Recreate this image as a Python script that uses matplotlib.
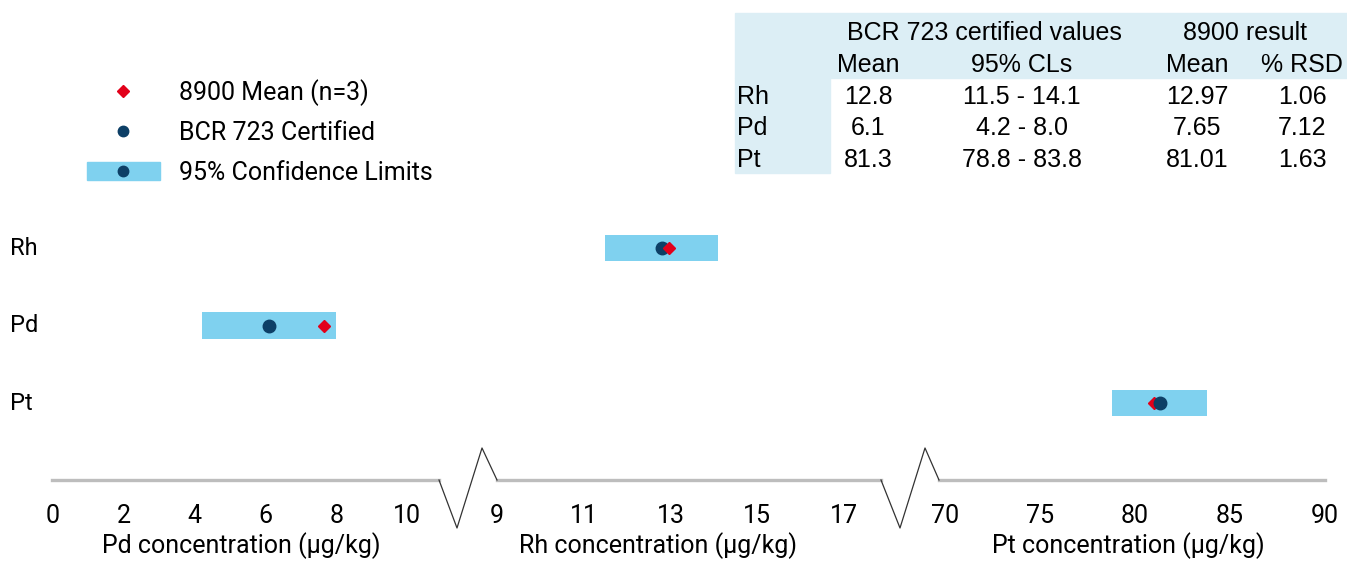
import matplotlib
matplotlib.use("Agg")
import matplotlib.pyplot as plt
import matplotlib.transforms as mtransforms
from matplotlib.lines import Line2D
from matplotlib.patches import Patch, Rectangle
from matplotlib.legend_handler import HandlerTuple

elements = ['Rh', 'Pd', 'Pt']
cert_mean = [12.8, 6.1, 81.3]
cl_low = [11.5, 4.2, 78.8]
cl_high = [14.1, 8.0, 83.8]
meas_mean = [12.97, 7.65, 81.01]
meas_rsd = [1.06, 7.12, 1.63]

# broken x axis: one segment per element
seg_elements = ['Pd', 'Rh', 'Pt']
seg_ticks = [[0, 2, 4, 6, 8, 10], [9, 11, 13, 15, 17], [70, 75, 80, 85, 90]]
seg_xlim = [(-0.03, 10.9), (9.05, 17.85), (69.68, 90)]
seg_px = [(52, 439), (497, 881), (939, 1325)]
seg_label_x = [0.49, 0.42, 0.49]

W, H = 1347, 563
BAR = '#7fd1ef'
NAVY = '#0d3f66'
RED = '#e2001a'
TABLE_BG = '#dceef5'
FONT = 'Roboto'
TFONT = 'Liberation Sans'

plt.rcParams['font.family'] = FONT

fig = plt.figure(figsize=(W / 100, H / 100), dpi=100)

y_top, y_bot = 200, 480
for name, ticks, xlim, (x0, x1), lx in zip(seg_elements, seg_ticks, seg_xlim, seg_px, seg_label_x):
    ax = fig.add_axes([x0 / W, 1 - y_bot / H, (x1 - x0) / W, (y_bot - y_top) / H])
    i = elements.index(name)
    ax.barh(i, cl_high[i] - cl_low[i], left=cl_low[i], height=0.34, color=BAR, zorder=1)
    # whichever mean is larger gets drawn on top (as in the original)
    z_cert, z_meas = (3, 2) if cert_mean[i] > meas_mean[i] else (2, 3)
    ax.plot(cert_mean[i], i, 'o', color=NAVY, markersize=9, zorder=z_cert)
    ax.plot(meas_mean[i], i, 'D', color=RED, markersize=6.5, zorder=z_meas)
    ax.set_xlim(*xlim)
    ax.set_ylim(2.99, -0.62)
    ax.set_xticks(ticks)
    ax.set_yticks([])
    ax.tick_params(axis='x', length=0, pad=17, labelsize=18)
    for s in ['top', 'left', 'right']:
        ax.spines[s].set_visible(False)
    ax.spines['bottom'].set_color('#bdbdbd')
    ax.spines['bottom'].set_linewidth(2.4)
    ax.set_xlabel(name + ' concentration (μg/kg)', fontsize=18, labelpad=3, x=lx)
    if name == 'Pd':
        trans = mtransforms.blended_transform_factory(fig.transFigure, ax.transData)
        for j, el in enumerate(elements):
            ax.text(10 / W, j, el, transform=trans, ha='left', va='center', fontsize=17)

# zigzag breaks between the segments
for pts in [[(439, 480), (457, 528), (482, 448), (497, 480)],
            [(881, 480), (900, 528), (925, 448), (939, 480)]]:
    fig.add_artist(Line2D([p[0] / W for p in pts], [1 - p[1] / H for p in pts],
                          color='#333333', lw=0.9, transform=fig.transFigure))

# legend
h_mean = Line2D([], [], marker='D', color=RED, ls='none', markersize=6.5)
h_cert = Line2D([], [], marker='o', color=NAVY, ls='none', markersize=7.5)
h_cl = (Patch(color=BAR), Line2D([], [], marker='o', color=NAVY, ls='none', markersize=7.5))
fig.legend([h_mean, h_cert, h_cl],
           ['8900 Mean (n=3)', 'BCR 723 Certified', '95% Confidence Limits'],
           loc='upper left', bbox_to_anchor=(87 / W, 1 - 79 / H), frameon=False,
           fontsize=18, handlelength=2.9, handleheight=0.75, handletextpad=0.78,
           labelspacing=0.62, borderpad=0, borderaxespad=0,
           handler_map={tuple: HandlerTuple(ndivide=1, pad=0)})

# summary table
fig.add_artist(Rectangle((735 / W, 1 - 78 / H), (W - 735) / W, 65 / H,
                         color=TABLE_BG, transform=fig.transFigure, zorder=0))
fig.add_artist(Rectangle((735 / W, 1 - 173 / H), 95 / W, 95 / H,
                         color=TABLE_BG, transform=fig.transFigure, zorder=0))

col_x = [868, 1022, 1197, 1302]
row_y = [97, 128, 160]
tkw = dict(fontsize=18, family=TFONT, va='center')
fig.text(984 / W, 1 - 33 / H, 'BCR 723 certified values', ha='center', **tkw)
fig.text(1245 / W, 1 - 33 / H, '8900 result', ha='center', **tkw)
for x, t in zip(col_x, ['Mean', '95% CLs', 'Mean', '% RSD']):
    fig.text(x / W, 1 - 65 / H, t, ha='center', **tkw)
for j, el in enumerate(elements):
    y = 1 - row_y[j] / H
    fig.text(737 / W, y, el, ha='left', **tkw)
    cells = [f'{cert_mean[j]:.1f}', f'{cl_low[j]:.1f} - {cl_high[j]:.1f}',
             f'{meas_mean[j]:.2f}', f'{meas_rsd[j]:.2f}']
    for x, t in zip(col_x, cells):
        fig.text(x / W, y, t, ha='center', **tkw)

fig.savefig('out.png', dpi=100)
